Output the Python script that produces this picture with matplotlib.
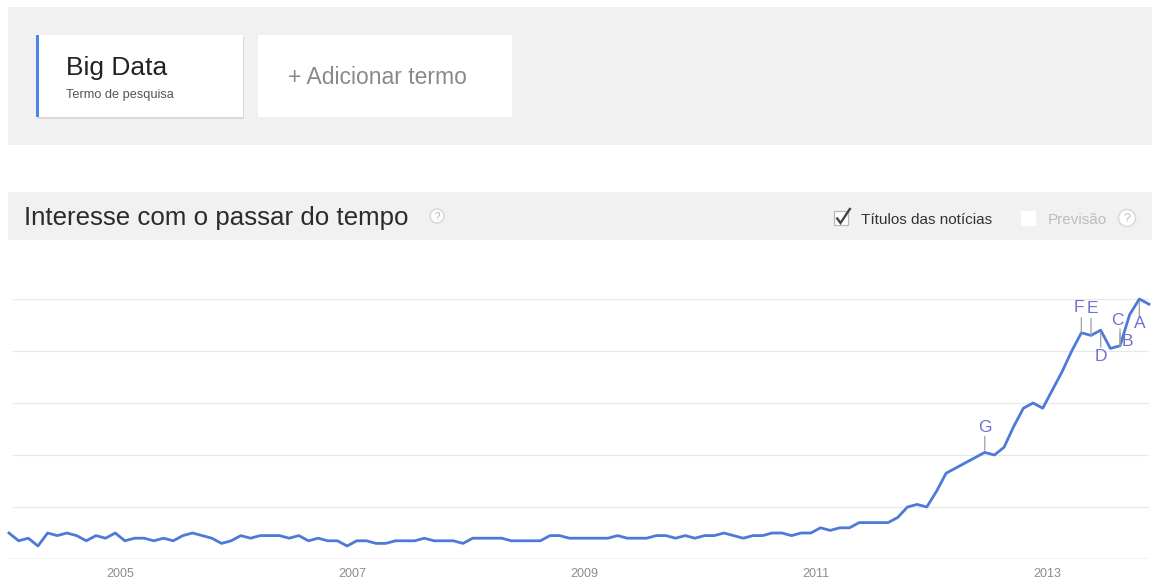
import matplotlib
matplotlib.use('Agg')
import matplotlib.pyplot as plt
from matplotlib.patches import Rectangle, Circle

plt.rcParams['font.family'] = ['Liberation Sans', 'DejaVu Sans']

# ---------------- data ----------------
search_term = 'Big Data'
term_subtitle = 'Termo de pesquisa'
add_term_label = '+ Adicionar termo'
section_title = 'Interesse com o passar do tempo'
news_label = 'Títulos das notícias'
forecast_label = 'Previsão'

# monthly interest, Jan 2004 .. Nov 2013 (index 0 = Jan 2004)
interest = [10, 7, 8, 5, 10, 9, 10, 9, 7, 9, 8, 10,
            7, 8, 8, 7, 8, 7, 9, 10, 9, 8, 6, 7,
            9, 8, 9, 9, 9, 8, 9, 7, 8, 7, 7, 5,
            7, 7, 6, 6, 7, 7, 7, 8, 7, 7, 7, 6,
            8, 8, 8, 8, 7, 7, 7, 7, 9, 9, 8, 8,
            8, 8, 8, 9, 8, 8, 8, 9, 9, 8, 9, 8,
            9, 9, 10, 9, 8, 9, 9, 10, 10, 9, 10, 10,
            12, 11, 12, 12, 14, 14, 14, 14, 16, 20, 21, 20,
            26, 33, 35, 37, 39, 41, 40, 43, 51, 58, 60, 58,
            65, 72, 80, 87, 86, 88, 81, 82, 94, 100, 98]
months = list(range(len(interest)))

year_labels = ['2005', '2007', '2009', '2011', '2013']
year_positions = [11.5, 35.5, 59.5, 83.5, 107.5]   # month index of year start

grid_values = [20, 40, 60, 80, 100]

news_letters = ['A', 'B', 'C', 'D', 'E', 'F', 'G']
news_months = [117, 115, 115, 113, 112, 111, 101]

# ---------------- layout / style ----------------
W, H = 1152, 582
fig = plt.figure(figsize=(W / 100, H / 100), dpi=100)
fig.patch.set_facecolor('white')

bg = fig.add_axes([0, 0, 1, 1])
bg.set_xlim(0, W)
bg.set_ylim(H, 0)
bg.axis('off')

panel_gray = '#f1f1f1'
# top panel
bg.add_patch(Rectangle((8, 7), W - 8, 138, fc=panel_gray, ec='none'))
# term card with shadow
bg.add_patch(Rectangle((37, 36.5), 207, 82, fc='#d9d9d9', ec='none'))
bg.add_patch(Rectangle((36, 35), 207, 82, fc='white', ec='none'))
bg.add_patch(Rectangle((36, 35), 3.2, 82, fc='#4a86e8', ec='none'))
bg.text(66, 75, search_term, fontsize=19, color='#222222', va='baseline', ha='left')
bg.text(66, 98, term_subtitle, fontsize=9.2, color='#555555', va='baseline', ha='left')
# add-term box
bg.add_patch(Rectangle((258, 35), 254, 82, fc='white', ec='none'))
bg.text(288, 84.5, add_term_label, fontsize=16.5, color='#8a8a8a', va='baseline', ha='left')

# header band
bg.add_patch(Rectangle((8, 192), W - 8, 48, fc=panel_gray, ec='none'))
bg.text(24, 224.5, section_title, fontsize=18.6, color='#2b2b2b', va='baseline', ha='left')
bg.add_patch(Circle((437, 216), 7, fc='white', ec='#d5d5d5', lw=1))
bg.text(437, 216.5, '?', fontsize=7, color='#b0b0b0', ha='center', va='center')

# news checkbox
bg.add_patch(Rectangle((834, 211), 14, 14, fc='white', ec='#b8b8b8', lw=0.9))
bg.plot([836.5, 840.5, 850.5], [217.5, 223, 208], color='#444444', lw=1.7,
        solid_joinstyle='miter', solid_capstyle='butt')
bg.text(861, 223.5, news_label, fontsize=11, color='#333333', va='baseline', ha='left')
# forecast checkbox
bg.add_patch(Rectangle((1021, 211), 15, 15, fc='white', ec='none'))
bg.text(1048, 223.5, forecast_label, fontsize=11, color='#bdbdbd', va='baseline', ha='left')
bg.add_patch(Circle((1127, 218), 8.5, fc='white', ec='#dadada', lw=1.2))
bg.text(1127, 218.5, '?', fontsize=9, color='#bdbdbd', ha='center', va='center')

# ---------------- chart ----------------
left_px, right_px = 8, 1149
y0_px, y100_px = 559, 299
ax = fig.add_axes([left_px / W, (H - y0_px) / H, (right_px - left_px) / W,
                   (y0_px - y100_px) / H])
ax.set_facecolor('none')
ax.set_xlim(-0.1, len(interest) - 1)
ax.set_ylim(0, 100)
for s in ax.spines.values():
    s.set_visible(False)

for gv in grid_values:
    ax.axhline(gv, xmin=0.004, xmax=1.0, color='#e8e8e8', lw=0.9, zorder=0)
ax.axhline(0, color='#a6a6a6', lw=0.9, zorder=1)

line_color = '#4d79d8'
ax.plot(months, interest, color=line_color, lw=2.0, solid_joinstyle='round',
        clip_on=False, zorder=3)

ax.set_yticks([])
ax.set_xticks(year_positions)
ax.set_xticklabels(year_labels)
ax.tick_params(axis='x', length=0, pad=6.5, labelsize=9, labelcolor='#8c8c8c')

# news markers: (tick start offset, tick end offset, letter dx, letter dy) in pixels, +up
marker_layout = {
    'A': (-2, -18, 0.5, -25),
    'B': (0, 12, 7, 4),
    'C': (0, 17, -3, 25),
    'D': (-3, -17, 0, -26),
    'E': (0, 17, 1.5, 27),
    'F': (0, 15, -2.5, 25),
    'G': (2, 16, 0, 25),
}
letter_color = '#6e70d4'
tick_color = '#a0a0a0'
for letter, m in zip(news_letters, news_months):
    t0, t1, ldx, ldy = marker_layout[letter]
    val = interest[m]
    if t0 != t1:
        ax.annotate('', xy=(m, val), xytext=(0, t1), textcoords='offset pixels',
                    arrowprops=dict(arrowstyle='-', color=tick_color, lw=0.9,
                                    shrinkA=0, shrinkB=abs(t0) * 0.72),
                    annotation_clip=False, zorder=4)
    ax.annotate(letter, xy=(m, val), xytext=(ldx, ldy), textcoords='offset pixels',
                ha='center', va='center', fontsize=12.5, color=letter_color,
                annotation_clip=False, zorder=5)

fig.savefig('out.png', dpi=100, facecolor='white')
